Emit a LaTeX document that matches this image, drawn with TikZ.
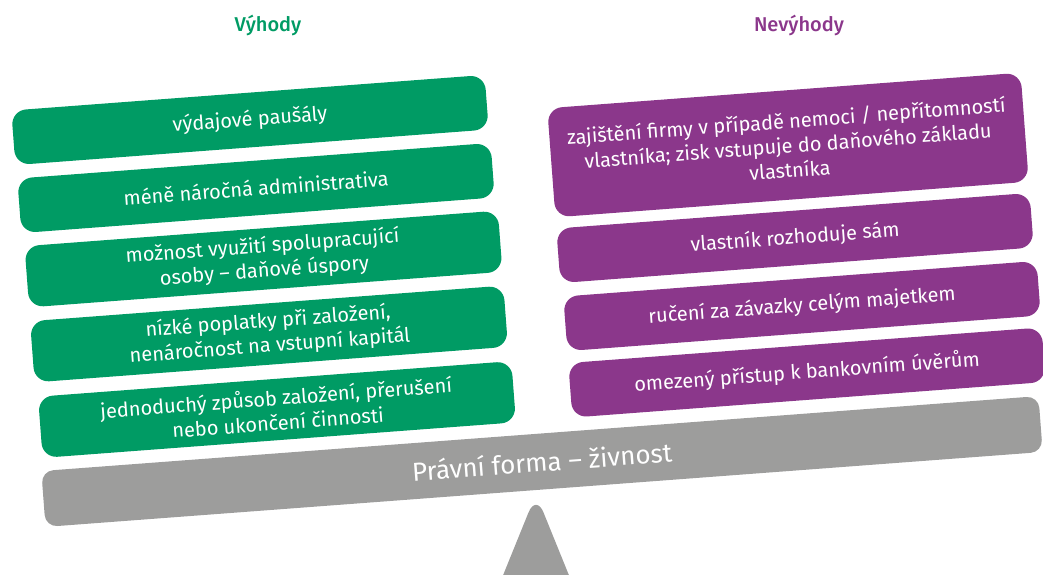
\documentclass[tikz,border=0pt]{standalone}
\usepackage{fontspec}
\setmainfont{Fira Sans}
\newfontfamily\headfont{Fira Sans Medium}
\usetikzlibrary{positioning}
\definecolor{prosgreen}{HTML}{009B64}
\definecolor{conspurple}{HTML}{8B378B}
\definecolor{beamgray}{HTML}{9D9D9C}
\tikzset{
    item/.style={rectangle, rounded corners=11pt, text=white, minimum width=356pt, minimum height=41pt, align=center, rotate=4.3, inner sep=2pt, font=\fontsize{15}{18.5}\selectfont},
    pro/.style={item, fill=prosgreen},
    con/.style={item, fill=conspurple},
    head/.style={font=\headfont\fontsize{15}{18}\selectfont},
    beam/.style={rectangle, rounded corners=9pt, fill=beamgray, text=white, minimum width=750pt, minimum height=42pt, rotate=4.3, font=\fontsize{19.5}{22}\selectfont},
}

\begin{document}
\begin{tikzpicture}
        [x=0.75pt, y=-0.75pt]
        \useasboundingbox (0,0) rectangle (1043,575);

        % Headings
        \node[head, text=prosgreen] (pros) at (268,25) {Výhody};
        \node[head, text=conspurple] (cons) at (799,25) {Nevýhody};

        % Advantages
        \node[pro] (p1) at (250,120) {výdajové paušály};
        \node[pro] (p2) at (256,188) {méně náročná administrativa};
        \node[pro, minimum height=46pt] (p3) at (263.5,259) {možnost využití spolupracující\\osoby -- daňové úspory};
        \node[pro, minimum height=46pt] (p4) at (269,334) {nízké poplatky při založení,\\nenáročnost na vstupní kapitál};
        \node[pro, minimum height=46pt] (p5) at (277,409.5) {jednoduchý způsob založení, přerušení\\nebo ukončení činnosti};

        % Disadvantages
        \node[con, minimum height=82pt] (c1) at (788,145) {zajištění firmy v případě nemoci / nepřítomností\\vlastníka; zisk vstupuje do daňového základu\\vlastníka};
        \node[con] (c2) at (795,238) {vlastník rozhoduje sám};
        \node[con] (c3) at (802,306) {ručení za závazky celým majetkem};
        \node[con] (c4) at (807,372.5) {omezený přístup k bankovním úvěrům};

        % Beam and fulcrum
        \node[beam] (form) at (542,461.5) {Právní forma -- živnost};
        \fill[beamgray, rounded corners=15pt] (493,600) -- (536,494) -- (579,600);
    \end{tikzpicture}
\end{document}
